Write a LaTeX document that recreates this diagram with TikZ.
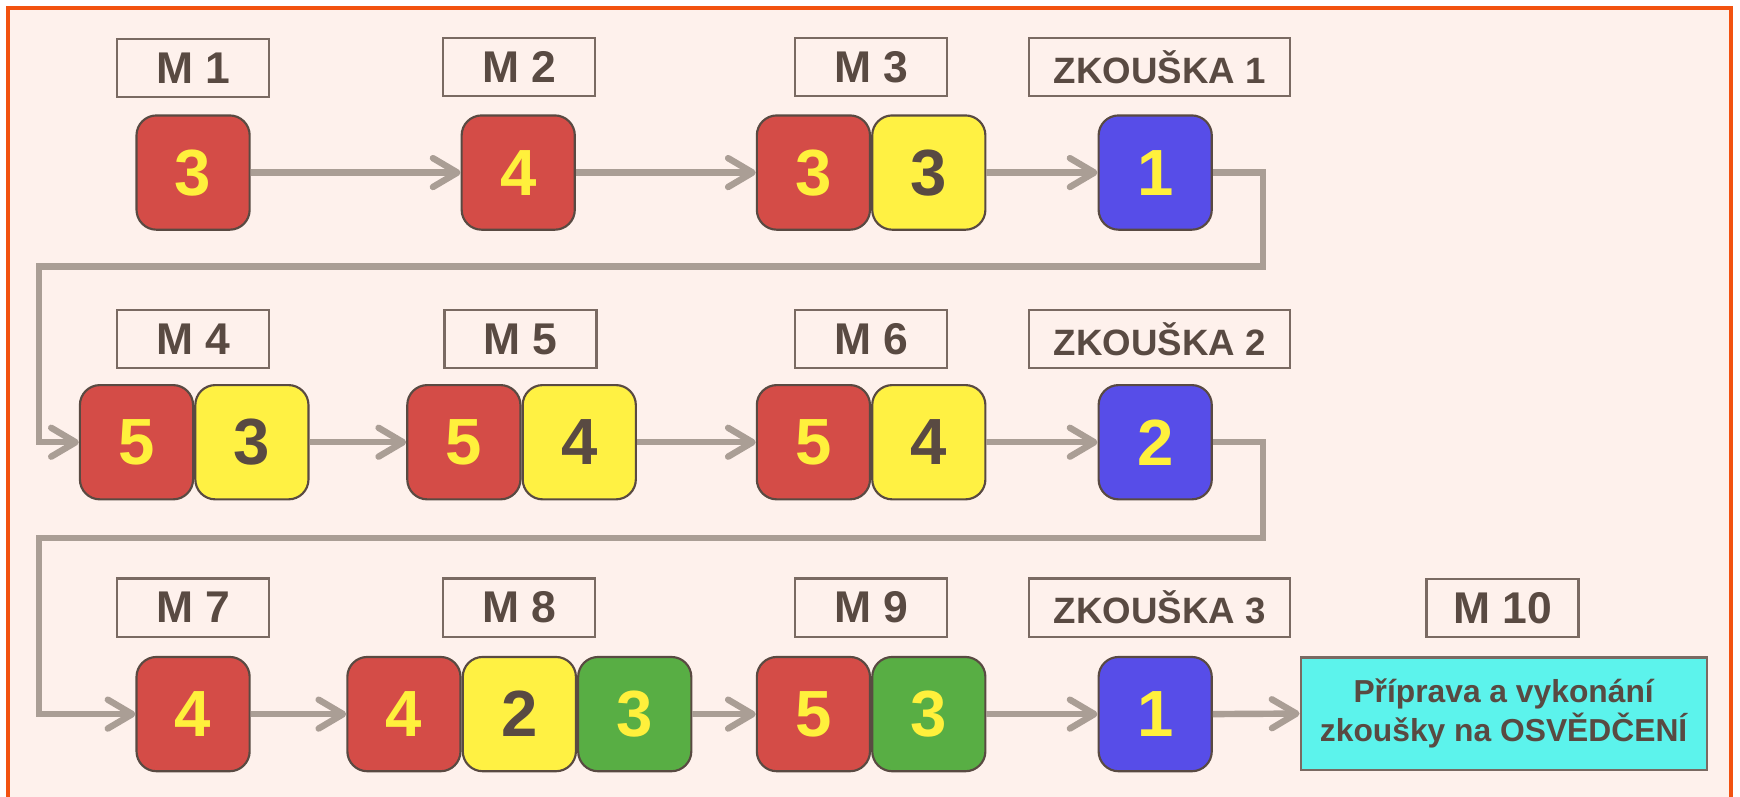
\documentclass[tikz,border=0pt]{standalone}
\usepackage{fontspec}
\setmainfont{Liberation Sans}
\usetikzlibrary{arrows.meta,calc,positioning}

\definecolor{pozadi}{RGB}{254,241,236}
\definecolor{ramec}{RGB}{242,82,16}
\definecolor{cervena}{RGB}{212,76,71}
\definecolor{zluta}{RGB}{255,241,67}
\definecolor{zelena}{RGB}{88,174,68}
\definecolor{modra}{RGB}{87,77,232}
\definecolor{tyrkys}{RGB}{92,243,236}
\definecolor{hneda}{RGB}{89,74,66}
\definecolor{okraj}{RGB}{122,106,98}
\definecolor{cara}{RGB}{170,158,149}
\definecolor{cislo}{RGB}{255,240,60}

\begin{document}
\begin{tikzpicture}[x=0.02cm, y=-0.02cm]
    \tikzset{blok/.style= {draw=hneda, line width=1.1pt,
        rounded corners=0.36cm, inner sep=0pt,
        minimum width=2.04cm, minimum height=2.06cm,
        text  = cislo,
        font  = \fontsize{33.5}{36}\selectfont\bfseries},
      cerv/.style = {blok, fill=cervena},
      zlu/.style = {blok, fill=zluta, text=hneda},
      zel/.style = {blok, fill=zelena},
      mod/.style = {blok, fill=modra},
      tag/.style = {draw=okraj, line width=1.1pt, inner sep=0pt,
        minimum width=2.74cm, minimum height=1.05cm, text=hneda,
        font=\fontsize{22.8}{26}\selectfont\bfseries},
      zktag/.style = {tag, minimum width=4.7cm,
        font=\fontsize{18.8}{22}\selectfont\bfseries},
      sipka/.style = {draw=cara, line width=3.3pt,
        -{Straight Barb[length=0.44cm, width=0.52cm, round]}}}
    \fill[white] (0,0) rectangle (1568,718);
    \path[use as bounding box, clip] (0,0) rectangle (1568,718);
    \draw[ramec, fill=pozadi, line width=2.3pt] (7,7) rectangle (1560,740);
    \node[cerv] (m1a) at (174,155.5) {3};
    \node[cerv] (m2a) at (467,155.5) {4};
    \node[cerv] (m3a) at (733,155.5) {3};
    \node[zlu] (m3b) at (837,155.5) {3};
    \node[mod] (z1) at (1041,155.5) {1};
    \node[cerv] (m4a) at (123,398.5) {5};
    \node[zlu] (m4b) at (227,398.5) {3};
    \node[cerv] (m5a) at (418,398.5) {5};
    \node[zlu] (m5b) at (522,398.5) {4};
    \node[cerv] (m6a) at (733,398.5) {5};
    \node[zlu] (m6b) at (837,398.5) {4};
    \node[mod] (z2) at (1041,398.5) {2};
    \node[cerv] (m7a) at (174,643.5) {4};
    \node[cerv] (m8a) at (364,643.5) {4};
    \node[zlu] (m8b) at (468,643.5) {2};
    \node[zel] (m8c) at (572,643.5) {3};
    \node[cerv] (m9a) at (733,643.5) {5};
    \node[zel] (m9b) at (837,643.5) {3};
    \node[mod] (z3) at (1041,643.5) {1};
    \node[draw=okraj, fill=tyrkys, line width=1.1pt, minimum width=7.32cm,
      minimum height=2.02cm, text=hneda, align=center,
      font=\fontsize{16.3}{19.7}\selectfont\bfseries] (m10) at (1355,643)
      {Příprava a vykonání\\zkoušky na OSVĚDČENÍ};
    \node[tag] (t1) at ($(m1a) - (0,94)$) {M 1};
    \node[tag] (t2) at ($(m2a) - (-1,95)$) {M 2};
    \node[tag] (t3) at ($(m3a)!0.5!(m3b) - (0,95)$) {M 3};
    \node[zktag] (tz1) at ($(z1) - (-4,95)$) {ZKOUŠKA 1};
    \node[tag] (t4) at ($(m4a)!0.5!(m4b) - (1,93)$) {M 4};
    \node[tag] (t5) at ($(m5a)!0.5!(m5b) - (1,93)$) {M 5};
    \node[tag] (t6) at ($(m6a)!0.5!(m6b) - (0,93)$) {M 6};
    \node[zktag] (tz2) at ($(z2) - (-4,93)$) {ZKOUŠKA 2};
    \node[tag] (t7) at ($(m7a) - (0,96)$) {M 7};
    \node[tag] (t8) at ($(m8b) - (0,96)$) {M 8};
    \node[tag] (t9) at ($(m9a)!0.5!(m9b) - (0,96)$) {M 9};
    \node[zktag] (tz3) at ($(z3) - (-4,96)$) {ZKOUŠKA 3};
    \node[tag] (t10) at ($(m10) - (1,95)$) {M 10};
    \coordinate (k1) at (35,240);
    \coordinate (k2) at (35,485);
    \draw[sipka] (m1a.east) -- (m2a.west);
    \draw[sipka] (m2a.east) -- (m3a.west);
    \draw[sipka] (m3b.east) -- (z1.west);
    \draw[sipka] (z1.east) -- ++(45,0) |- (k1) |- (m4a.west);
    \draw[sipka] (m4b.east) -- (m5a.west);
    \draw[sipka] (m5b.east) -- (m6a.west);
    \draw[sipka] (m6b.east) -- (z2.west);
    \draw[sipka] (z2.east) -- ++(45,0) |- (k2) |- (m7a.west);
    \draw[sipka] (m7a.east) -- (m8a.west);
    \draw[sipka] (m8c.east) -- (m9a.west);
    \draw[sipka] (m9b.east) -- (z3.west);
    \draw[sipka] (z3.east) -- (m10.west);
  \end{tikzpicture}
\end{document}
